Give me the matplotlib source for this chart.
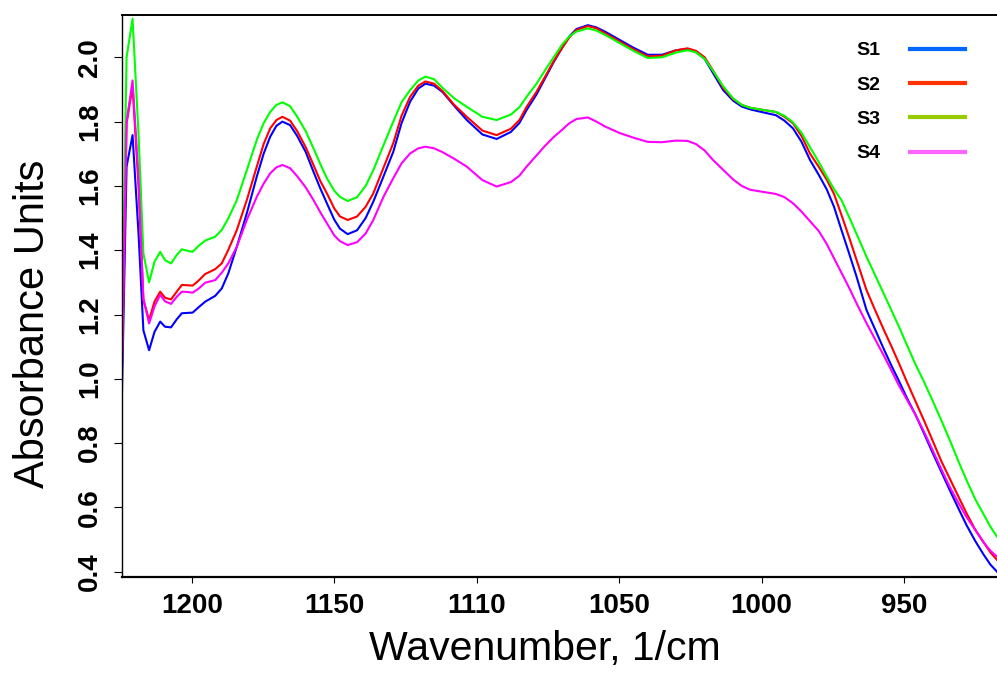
import matplotlib.pyplot as plt
from matplotlib.lines import Line2D

plt.rcParams['font.family'] = ['Liberation Sans', 'DejaVu Sans']

# Nombre d'onde (1/cm), axe inversé
wavenumber = [1224.6, 1222.9, 1220.8, 1218.7, 1217.0, 1215.0, 1213.1, 1211.1, 1209.4, 1207.3,
              1205.3, 1203.5, 1201.5, 1199.7, 1197.7, 1195.3, 1191.8, 1189.5, 1187.2, 1184.2,
              1180.7, 1177.2, 1174.8, 1172.5, 1170.3, 1168.2, 1165.5, 1163.0, 1160.0, 1157.3,
              1154.9, 1152.6, 1150.0, 1148.0, 1145.3, 1142.0, 1139.0, 1136.3, 1132.8, 1129.3,
              1126.4, 1123.4, 1120.5, 1118.0, 1115.0, 1112.0, 1108.0, 1103.5, 1098.0, 1093.0,
              1088.0, 1085.0, 1082.5, 1079.0, 1076.0, 1073.0, 1070.0, 1067.5, 1065.0, 1061.0,
              1058.0, 1055.0, 1050.0, 1045.0, 1040.0, 1035.0, 1030.0, 1026.0, 1023.0, 1020.0,
              1017.0, 1013.5, 1010.0, 1007.0, 1004.0, 1000.6, 995.0, 992.0, 989.0, 986.0,
              983.0, 980.0, 977.2, 974.6, 972.0, 969.3, 966.7, 963.2, 960.0, 957.0,
              954.4, 951.8, 949.0, 946.0, 943.0, 940.1, 937.0, 934.0, 931.0, 928.1,
              925.0, 922.0, 919.7, 917.4]

s1 = [0.92, 1.66, 1.758, 1.45, 1.151, 1.089, 1.146, 1.178, 1.162, 1.160,
      1.185, 1.204, 1.205, 1.206, 1.222, 1.240, 1.258, 1.281, 1.328, 1.411,
      1.515, 1.629, 1.700, 1.753, 1.787, 1.800, 1.789, 1.755, 1.705, 1.644,
      1.592, 1.546, 1.495, 1.467, 1.450, 1.462, 1.500, 1.551, 1.628, 1.706,
      1.795, 1.862, 1.903, 1.918, 1.912, 1.892, 1.850, 1.805, 1.760, 1.746,
      1.768, 1.796, 1.836, 1.885, 1.935, 1.985, 2.030, 2.065, 2.088, 2.100,
      2.093, 2.080, 2.055, 2.030, 2.008, 2.008, 2.022, 2.026, 2.016, 1.995,
      1.950, 1.898, 1.865, 1.847, 1.838, 1.831, 1.820, 1.803, 1.779, 1.737,
      1.680, 1.635, 1.590, 1.535, 1.463, 1.390, 1.318, 1.214, 1.150, 1.090,
      1.040, 0.993, 0.940, 0.888, 0.830, 0.772, 0.712, 0.654, 0.598, 0.545,
      0.495, 0.452, 0.422, 0.400]

s2 = [1.00, 1.795, 1.909, 1.60, 1.245, 1.183, 1.240, 1.271, 1.252, 1.247,
      1.271, 1.292, 1.291, 1.290, 1.305, 1.326, 1.341, 1.359, 1.401, 1.463,
      1.556, 1.660, 1.730, 1.779, 1.805, 1.815, 1.803, 1.770, 1.720, 1.665,
      1.615, 1.577, 1.530, 1.505, 1.494, 1.505, 1.535, 1.577, 1.655, 1.733,
      1.818, 1.877, 1.912, 1.925, 1.918, 1.895, 1.853, 1.815, 1.772, 1.758,
      1.778, 1.805, 1.846, 1.893, 1.940, 1.988, 2.030, 2.062, 2.085, 2.097,
      2.090, 2.075, 2.050, 2.025, 2.003, 2.005, 2.022, 2.028, 2.020, 2.000,
      1.958, 1.905, 1.870, 1.852, 1.843, 1.838, 1.830, 1.815, 1.795, 1.755,
      1.700, 1.660, 1.620, 1.575, 1.510, 1.440, 1.370, 1.276, 1.210, 1.150,
      1.100, 1.048, 0.990, 0.930, 0.870, 0.810, 0.745, 0.690, 0.635, 0.582,
      0.530, 0.490, 0.460, 0.437]

s3 = [1.12, 2.00, 2.12, 1.76, 1.390, 1.300, 1.364, 1.395, 1.369, 1.359,
      1.385, 1.403, 1.398, 1.395, 1.413, 1.430, 1.442, 1.463, 1.499, 1.556,
      1.649, 1.743, 1.795, 1.830, 1.852, 1.860, 1.848, 1.815, 1.770, 1.717,
      1.668, 1.624, 1.585, 1.566, 1.553, 1.565, 1.600, 1.649, 1.725, 1.800,
      1.860, 1.898, 1.928, 1.940, 1.932, 1.905, 1.873, 1.846, 1.815, 1.805,
      1.822, 1.845, 1.877, 1.918, 1.960, 2.000, 2.040, 2.065, 2.080, 2.090,
      2.083, 2.070, 2.045, 2.020, 1.998, 2.000, 2.015, 2.022, 2.015, 1.995,
      1.957, 1.910, 1.872, 1.852, 1.843, 1.838, 1.830, 1.818, 1.798, 1.765,
      1.720, 1.675, 1.630, 1.590, 1.556, 1.503, 1.451, 1.380, 1.319, 1.262,
      1.212, 1.162, 1.105, 1.045, 0.990, 0.934, 0.872, 0.810, 0.745, 0.685,
      0.625, 0.577, 0.540, 0.509]

s4 = [1.00, 1.80, 1.928, 1.62, 1.250, 1.172, 1.225, 1.261, 1.241, 1.233,
      1.255, 1.271, 1.270, 1.268, 1.280, 1.299, 1.307, 1.330, 1.359, 1.411,
      1.494, 1.566, 1.607, 1.639, 1.658, 1.665, 1.655, 1.630, 1.595, 1.556,
      1.518, 1.484, 1.446, 1.428, 1.416, 1.425, 1.452, 1.494, 1.565, 1.624,
      1.670, 1.701, 1.717, 1.722, 1.717, 1.705, 1.685, 1.660, 1.618, 1.598,
      1.612, 1.632, 1.660, 1.695, 1.725, 1.752, 1.775, 1.795, 1.808, 1.813,
      1.800, 1.785, 1.765, 1.750, 1.737, 1.736, 1.741, 1.740, 1.730, 1.710,
      1.680, 1.650, 1.620, 1.600, 1.588, 1.583, 1.575, 1.565, 1.546, 1.520,
      1.490, 1.460, 1.420, 1.375, 1.330, 1.283, 1.235, 1.173, 1.120, 1.070,
      1.025, 0.979, 0.935, 0.888, 0.835, 0.780, 0.720, 0.664, 0.615, 0.570,
      0.530, 0.490, 0.465, 0.447]

series = [s1, s2, s3, s4]
noms = ['S1', 'S2', 'S3', 'S4']
couleurs_courbes = ['#0000FF', '#FF0000', '#00FF00', '#FF00FF']
couleurs_legende = ['#0066FF', '#FF3300', '#99CC00', '#FF66FF']

x_ticks = [1200, 1150, 1100, 1050, 1000, 950]
x_labels = ['1200', '1150', '1110', '1050', '1000', '950']
y_ticks = [0.4, 0.6, 0.8, 1.0, 1.2, 1.4, 1.6, 1.8, 2.0]

fig = plt.figure(figsize=(9.97, 6.73), dpi=100)
ax = fig.add_axes([0.1221, 0.1426, 0.8779, 0.8351])

for valeurs, couleur in zip(series, couleurs_courbes):
    ax.plot(wavenumber, valeurs, color=couleur, linewidth=1.5)

ax.set_xlim(1224.6, 917.4)
ax.set_ylim(0.3835, 2.1316)

ax.set_xticks(x_ticks)
ax.set_xticklabels(x_labels, fontsize=20, fontweight='bold')
ax.set_yticks(y_ticks)
ax.set_yticklabels(['%.1f' % v for v in y_ticks], fontsize=20, fontweight='bold',
                   rotation=90, va='center')
ax.tick_params(axis='x', length=4.5, width=0.8, pad=7)
ax.tick_params(axis='y', length=5.5, width=0.8, pad=8)

ax.spines['right'].set_visible(False)
ax.spines['left'].set_linewidth(1.0)
ax.spines['bottom'].set_linewidth(1.6)
ax.spines['top'].set_linewidth(1.4)

ax.set_xlabel('Wavenumber, 1/cm', fontsize=29.5, labelpad=8, x=0.484)
ax.set_ylabel('Absorbance Units', fontsize=30, labelpad=17, y=0.45)

poignees = [Line2D([], [], color=c, linewidth=3) for c in couleurs_legende]
leg = ax.legend(poignees, noms, loc='upper left', bbox_to_anchor=(0.8593, 0.938),
                bbox_transform=fig.transFigure, frameon=False, markerfirst=False,
                prop={'size': 14, 'weight': 'bold'}, handlelength=2.86,
                handletextpad=1.5, labelspacing=0.86, borderpad=0, borderaxespad=0)

fig.savefig('out.png', dpi=100)
